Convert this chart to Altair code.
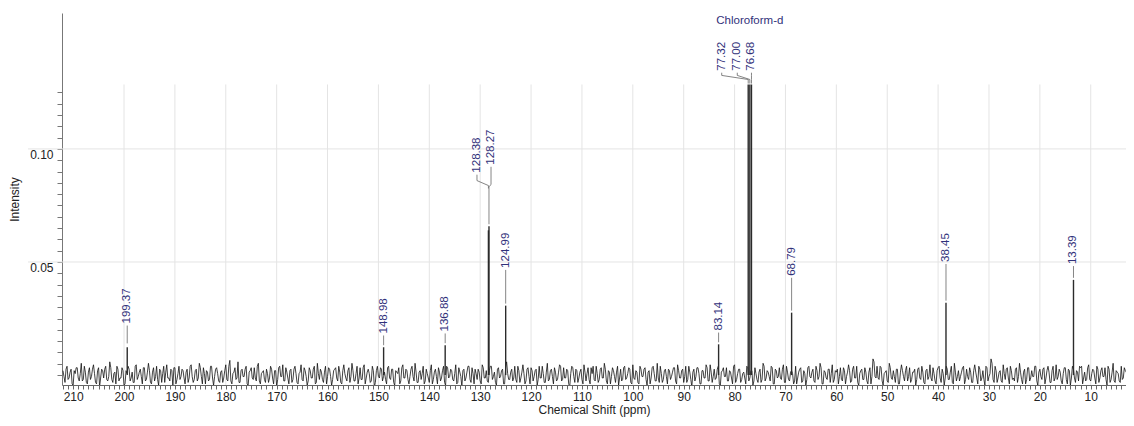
import altair as alt
import pandas as pd

# ---------------- data ----------------
# baseline noise (two interleaved sample sets), units of noise_unit intensity
noise_a = [
    3, -5, 6, -2, 4, -7, 1, 5, -4, 8, -3, 2, -6, 5, -1, 7, -5, 3, -8, 4,
    -2, 6, -4, 9, -3, 1, -6, 4, -2, 5, -7, 3, 6, -4, 2, -5, 7, -1, 4, -6,
    5, -3, 8, -5, 2, -4, 6, -7, 3, 1, -5, 7, -2, 4, -8, 5, -3, 6, -1, 3,
    -6, 4, -2, 7, -5, 3, -4, 8, -1, 5, -6, 2, -3, 6, -7, 4, 1, -5, 3, -2,
    7, -4, 10, -6, 2, -3, 9, -5, 4, -1, 6, -7, 3, -2, 5, -4, 8, -6, 2, -3,
    4, -5, 6, -2, 3, -8, 5, -1, 7, -4, 2, -6, 4, -3, 6, -5, 1, 7, -4, 3,
    -7, 5, -2, 4, -6, 8, -3, 2, -5, 6, -1, 4, -7, 3, 5, -4, 2, -6, 7, -2,
    3, -5, 8, -4, 1, -6, 5, -3, 7, -2, 4, -5, 6, -8, 3, -1, 5, -4, 2, -6,
    6, -3, 4, -7, 2, 5, -4, 7, -2, 3, -6, 4, -1, 8, -5, 2, -3, 6, -4, 1,
    -5, 7, -3, 4, -6, 2, -2, 6, -7, 5, -1, 3, -4, 7, -5, 2, -8, 4, -2, 6,
    -3, 5, -6, 1, 4, -4, 7, -2, 3, -5, 6, -3, 2, -7, 5, -1, 4, -6, 9, -3,
    2, -4, 6, -5, 3, -2, 7, -6, 4, -1, 5, -4, 3, -7, 6, -2, 1, -5, 8, -3,
    4, -6, 2, -3, 7, -4, 5, -2, 3, -8, 6, -1, 4, -5, 2, -3, 7, -4, 5, -6,
    1, -3, 6, -5, 4, -2, 8, -4, 3, -6, 5, -1, 2, -7, 4, -3, 6, -2, 5, -5,
    7, -3, 2, -6, 4, -1, 5, -7, 3, -2, 6, -4, 8, -5, 1, -3, 4, -6, 3, -1,
    5, -4, 7, -2, 3, -5, 6, -3, 2, -8, 4, -1, 5, -6, 3, -2, 7, -4, 7, -5,
    4, -2, 6, -7, 3, -1, 5, -4, 2, -6, 7, -3, 4, -5, 1, -2, 6, -4, 3, -7,
    5, -3, 2, -5, 8, -4, 3, -1, 6, -6, 4, -2, 5, -3, 7, -5, 2, -4, 3, -6,
    6, -2, 4, -5, 3, -7, 5, -1, 2, -4, 6, -3, 8, -6, 3, -2, 4, -5, 7, -3,
    2, -6, 5, -4, 3, -1, 7, -5, 4, -2, 6, -7, 3, -3, 5, -4, 2, -6, 11, -1,
    6, -3, 5, -7, 2, -4, 8, -2, 3, -5, 4, -6, 7, -1, 3, -4, 5, -3, 2, -7,
    4, -2, 6, -5, 3, -3, 7, -4, 1, -6, 5, -2, 4, -7, 6, -3, 2, -5, 8, -4,
    3, -1, 5, -6, 4, -3, 2, -5, 7, -2, 6, -4, 3, -7, 5, -1, 11, -3, 6, -5,
    2, -4, 7, -3, 5, -6, 3, -2, 4, -5, 8, -3, 2, -6, 5, -4, 3, -1, 6, -7,
    4, -3, 5, -2, 6, -5, 3, -4, 7, -1, 2, -6, 5, -3, 4, -7, 6, -2, 3, -4,
    5, -6, 2, -3, 7, -4, 4, -2, 6, -5, 3, -1, 5, -7, 4, -3, 8, -5, 2, -4,
    6, -2, 3, -5, 4, -6, 7, -3, 2, -4, 5, -1, 3, -6, 4, -2, 6, -5, 3, -3,
]
noise_b = [
    -1, 4, -3, 2, -6, 3, 5, -2, 1, -4, 6, -5, 2, -3, 4, 1, -6, 5, -2, 3,
    4, -3, -1, 5, -5, 2, 6, -4, -2, 3, -6, 1, 4, -2, -5, 6, -3, 2, -1, 5,
    -4, 2, 3, -6, 5, -1, -3, 4, -5, 6, 2, -2, -4, 3, 5, -6, 1, -3, 4, -2,
    2, -5, 6, -1, -3, 4, -2, 5, -6, 1, 3, -4, 6, -2, -1, 5, -4, 2, -5, 3,
    -3, 6, -4, 1, 5, -2, -5, 3, -1, 4, -6, 2, 5, -3, -2, 6, -4, 1, 3, -5,
    1, -2, 4, -6, 3, -3, 6, -1, -4, 5, -2, 3, -5, 4, 1, -6, 2, -3, 5, -1,
    -4, 3, -2, 6, -5, 1, 4, -3, 2, -6, 5, -1, -3, 4, -2, 6, -5, 3, 1, -4,
    5, -1, 3, -4, 6, -2, -3, 5, -6, 2, 1, -4, 3, -5, 6, -2, 4, -1, -3, 5,
    -2, 4, -5, 3, 1, -6, 5, -2, 4, -3, -1, 6, -4, 2, -5, 3, 1, -6, 4, -2,
    3, -6, 2, -1, 5, -4, 3, -5, 6, -2, 4, -3, 1, -6, 5, -1, 3, -4, 2, 6,
    -5, 1, 4, -3, 2, -6, 5, -2, -4, 3, 6, -1, -5, 4, -2, 3, -6, 5, 1, -3,
    4, -2, -3, 6, -5, 2, 1, -4, 5, -6, 3, -1, 4, -3, -2, 6, -5, 2, -4, 3,
    -1, 5, -4, 2, 6, -3, -2, 4, -6, 1, 5, -5, 3, -2, 4, -6, 2, 1, -3, 5,
    6, -4, 1, -3, 5, -2, 4, -6, 2, -1, 3, -5, 6, -2, -4, 5, -3, 1, 4, -6,
    -2, 3, -5, 6, -1, 4, -3, 2, -6, 5, 1, -4, -2, 6, -5, 3, -1, 4, -3, 2,
    5, -6, 3, -2, 4, -1, -5, 6, -3, 2, -4, 5, 1, -6, 3, -2, 5, -4, 2, -1,
    -3, 4, -6, 2, 5, -1, -4, 3, -2, 6, -5, 1, 4, -3, 2, -6, 5, -2, 3, -4,
    1, -5, 4, -3, 6, -2, 2, -4, 5, -6, 3, -1, -2, 4, -5, 6, -3, 2, 1, -4,
    -6, 2, 5, -4, 1, -3, 6, -2, 4, -5, 3, -1, 5, -6, 2, -3, 4, 1, -5, 3,
    4, -1, -3, 5, -6, 2, 3, -4, 6, -2, -5, 1, 4, -3, 2, -6, 5, -1, 9, -2,
    -2, 6, -4, 1, 3, -5, 5, -3, -1, 4, -6, 2, 3, -4, 6, -1, -5, 2, 4, -3,
    5, -3, 2, -6, 4, -1, -2, 5, -4, 3, 6, -5, 1, -2, 4, -3, 6, -6, 2, -1,
    -4, 2, 6, -3, -1, 5, -5, 3, 2, -6, 4, -2, -3, 6, -4, 1, 8, -5, 3, -2,
    3, -5, 1, 4, -2, 6, -3, -4, 5, -1, 2, -6, 4, -3, 5, -2, -1, 6, -4, 2,
    -1, 4, -6, 3, 2, -5, 6, -2, -3, 4, -4, 1, 5, -6, 3, -2, 4, -5, 2, 6,
    6, -2, -4, 5, -3, 1, 3, -6, 4, -2, 5, -1, -3, 6, -5, 2, -4, 3, 1, -5,
    -3, 5, 2, -4, 6, -1, -5, 3, -2, 4, -6, 5, 1, -3, 2, -4, 6, -2, -1, 3,
]
noise_a_start_ppm = 212.0
noise_b_start_ppm = 211.8
noise_step_ppm = 0.4
noise_unit = 0.00065

peak_ppm = [199.37, 148.98, 136.88, 128.38, 128.27, 124.99, 83.14,
            77.32, 77.00, 76.68, 68.79, 38.45, 13.39]
peak_height = [0.0123, 0.0123, 0.0132, 0.0640, 0.0658, 0.0307, 0.0136,
               0.1285, 0.1285, 0.1285, 0.0276, 0.0320, 0.0421]
label_text = ["199.37", "148.98", "136.88", "128.38", "128.27", "124.99", "83.14",
              "77.32", "77.00", "76.68", "68.79", "38.45", "13.39"]
label_ppm = [199.37, 148.98, 136.88, 130.63, 127.87, 124.99, 83.14,
             82.53, 79.47, 76.68, 68.79, 38.45, 13.39]
label_base = [0.0228, 0.0184, 0.0193, 0.0895, 0.0930, 0.0474, 0.0197,
              0.1346, 0.1346, 0.1346, 0.0439, 0.0500, 0.0491]
kink_hi = [0.0219, 0.0175, 0.0184, 0.0860, 0.0842, 0.0465, 0.0188,
           0.1325, 0.1325, 0.1325, 0.0430, 0.0491, 0.0482]
kink_lo = [0.0219, 0.0175, 0.0184, 0.0838, 0.0833, 0.0465, 0.0188,
           0.1307, 0.1307, 0.1307, 0.0430, 0.0491, 0.0482]
conn_end = [0.0140, 0.0132, 0.0141, 0.0825, 0.0667, 0.0316, 0.0145,
            0.1289, 0.1289, 0.1289, 0.0285, 0.0329, 0.0430]

x_ticks = list(range(4, 213))
y_ticks = [round(0.005 * i, 3) for i in range(26)]
grid_x = list(range(10, 201, 10))
grid_y = [0.05, 0.10]
grid_top = 0.1285
solvent_name = "Chloroform-d"
solvent_ppm = 77.0
solvent_y = 0.1566

W, H = 1064, 372
NAVY = "#31317a"
FONT = "Liberation Sans"

# ---------------- tables ----------------
noise_df = pd.DataFrame({
    "ppm": [noise_a_start_ppm - noise_step_ppm * i for i in range(len(noise_a))]
    + [noise_b_start_ppm - noise_step_ppm * i for i in range(len(noise_b))],
    "val": [v * noise_unit for v in noise_a] + [v * noise_unit for v in noise_b],
})
peaks_df = pd.DataFrame({"ppm": peak_ppm, "val": peak_height, "base": [0.0] * len(peak_ppm)})
labels_df = pd.DataFrame({"ppm": label_ppm, "val": label_base, "txt": label_text})
rows = []
for i, t in enumerate(label_text):
    pts = [(label_ppm[i], label_base[i] - 0.0009),
           (label_ppm[i], kink_hi[i]),
           (peak_ppm[i], kink_lo[i]),
           (peak_ppm[i], conn_end[i])]
    for k, (p, v) in enumerate(pts):
        rows.append({"lab": t, "k": k, "ppm": p, "val": v})
conn_df = pd.DataFrame(rows)
gx_df = pd.DataFrame({"g": grid_x, "top": [grid_top] * len(grid_x)})
gy_df = pd.DataFrame({"g": grid_y})
solv_df = pd.DataFrame({"ppm": [solvent_ppm], "val": [solvent_y], "txt": [solvent_name]})

xscale = alt.Scale(domain=[3.07, 212.19], reverse=True, nice=False, zero=False)
yscale = alt.Scale(domain=[-0.00439, 0.1601], nice=False, zero=False)

x_axis = alt.Axis(
    values=x_ticks,
    labelExpr="datum.value % 10 === 0 ? datum.label : ''",
    labelOverlap=False, grid=False, tickSize=4, tickColor="#666", domainColor="#666",
    labelFontSize=12, labelColor="#222", labelPadding=2, labelFont=FONT,
    title="Chemical Shift (ppm)", titleFontSize=12, titleFontWeight="normal",
    titleColor="#222", titlePadding=2, titleFont=FONT,
)
y_axis = alt.Axis(
    values=y_ticks,
    labelExpr="(datum.value == 0.05 || datum.value == 0.1) ? format(datum.value, '.2f') : ''",
    labelOverlap=False, grid=False, tickSize=5, tickColor="#777", domainColor="#777",
    labelFontSize=12, labelColor="#222", labelBaseline="top", labelOffset=1,
    labelPadding=4, labelFont=FONT,
    title="Intensity", titleFontSize=12, titleFontWeight="normal", titleColor="#222",
    titlePadding=8, titleFont=FONT,
)


def X(field):
    return alt.X(field, scale=xscale, axis=x_axis)


def Y(field):
    return alt.Y(field, scale=yscale, axis=y_axis)


vgrid = alt.Chart(gx_df).mark_rule(color="#e4e4e4", strokeWidth=1).encode(
    x=X("g:Q"), y=Y("top:Q"), y2=alt.value(H),
)
hgrid = alt.Chart(gy_df).mark_rule(color="#e4e4e4", strokeWidth=1).encode(
    y=Y("g:Q"), x=alt.value(-34), x2=alt.value(W),
)
noise_line = alt.Chart(noise_df).mark_line(color="#111", strokeWidth=0.8, clip=True).encode(
    x=X("ppm:Q"), y=Y("val:Q"),
)
peak_rules = alt.Chart(peaks_df).mark_rule(color="#2b2b2b", strokeWidth=1.4).encode(
    x=X("ppm:Q"), y=Y("val:Q"), y2="base:Q",
)
connectors = alt.Chart(conn_df).mark_line(color="#666", strokeWidth=0.8).encode(
    x=X("ppm:Q"), y=Y("val:Q"), detail="lab:N", order="k:Q",
)
labels = alt.Chart(labels_df).mark_text(
    angle=270, align="left", baseline="middle", fontSize=11.5, color=NAVY, font=FONT
).encode(x=X("ppm:Q"), y=Y("val:Q"), text="txt:N")
solvent = alt.Chart(solv_df).mark_text(
    align="center", baseline="middle", fontSize=11.5, color=NAVY, font=FONT
).encode(x=X("ppm:Q"), y=Y("val:Q"), text="txt:N")

chart = alt.layer(vgrid, hgrid, noise_line, peak_rules, connectors, labels, solvent).properties(
    width=W, height=H,
    background="white",
    autosize=alt.AutoSizeParams(type="none"),
    padding={"left": 54, "top": 5, "right": 0, "bottom": 33},
).configure_view(stroke=None)

chart.save("out.html", embed_options={"renderer": "svg", "actions": False})
